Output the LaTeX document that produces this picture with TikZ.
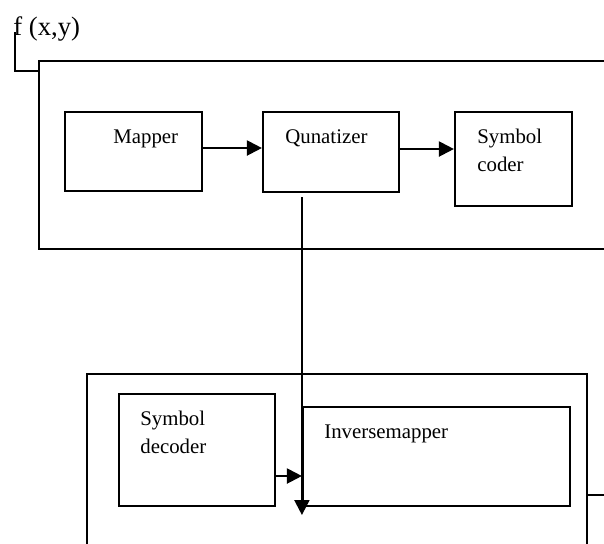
\documentclass[tikz,border=0pt]{standalone}
\usepackage{fontspec}
\setmainfont{Liberation Serif}
\usetikzlibrary{arrows.meta, fit}

\tikzset{
  box/.style={draw, line width=1.3pt, inner sep=0pt},
  lbl/.style={anchor=base west, inner sep=0pt, align=left, font=\fontsize{12.5}{16.8}\selectfont},
  arr/.style={-{Triangle[length=9pt,width=9pt]}, line width=1.3pt},
  wire/.style={line width=1.3pt},
}

\begin{document}
\begin{tikzpicture}[x=0.6pt,y=-0.6pt]
        \useasboundingbox (0,0) rectangle (604,543);
        \clip (0,0) rectangle (604,543);

        % encoder
        \node[box, fit={(39,61) (650,249)}] (enc) {};
        \node[box, fit={(65,112) (202,191)}] (map) {};
        \node[box, fit={(263,112) (399,192)}] (qnt) {};
        \node[box, fit={(455,112) (572,206)}] (sc) {};
        \node[lbl, font=\fontsize{16}{19}\selectfont] (fxy) at (13,35) {f (x,y)};
        \node[lbl] (maptxt) at (113,143) {Mapper};
        \node[lbl] (qnttxt) at (285,143) {Qunatizer};
        \node[lbl] (sctxt) at (477,171) {Symbol\\coder};

        % decoder
        \node[box, fit={(87,374) (587,600)}] (dec) {};
        \node[box, fit={(119,394) (275,506)}] (sd) {};
        \node[box, fit={(303,407) (570,506)}] (inv) {};
        \node[lbl] (sdtxt) at (140,453) {Symbol\\decoder};
        \node[lbl] (invtxt) at (324,438) {Inversemapper};
        \coordinate (out) at (620,495);

        \draw[wire] ([xshift=1.2pt,yshift=1.8pt]fxy.base west) |- (enc.west |- 0,71);
        \draw[arr] (map.east |- 0,148) -- (qnt.west |- 0,148);
        \draw[arr] (qnt.east |- 0,149) -- (sc.west |- 0,149);
        \draw[arr] ([yshift=-2.4pt]qnt.south -| inv.west) -- (inv.west |- 0,515);
        \draw[arr] (sd.east |- 0,476) -- (inv.west |- 0,476);
        \draw[wire] (dec.east |- out) -- (out);
\end{tikzpicture}
\end{document}
